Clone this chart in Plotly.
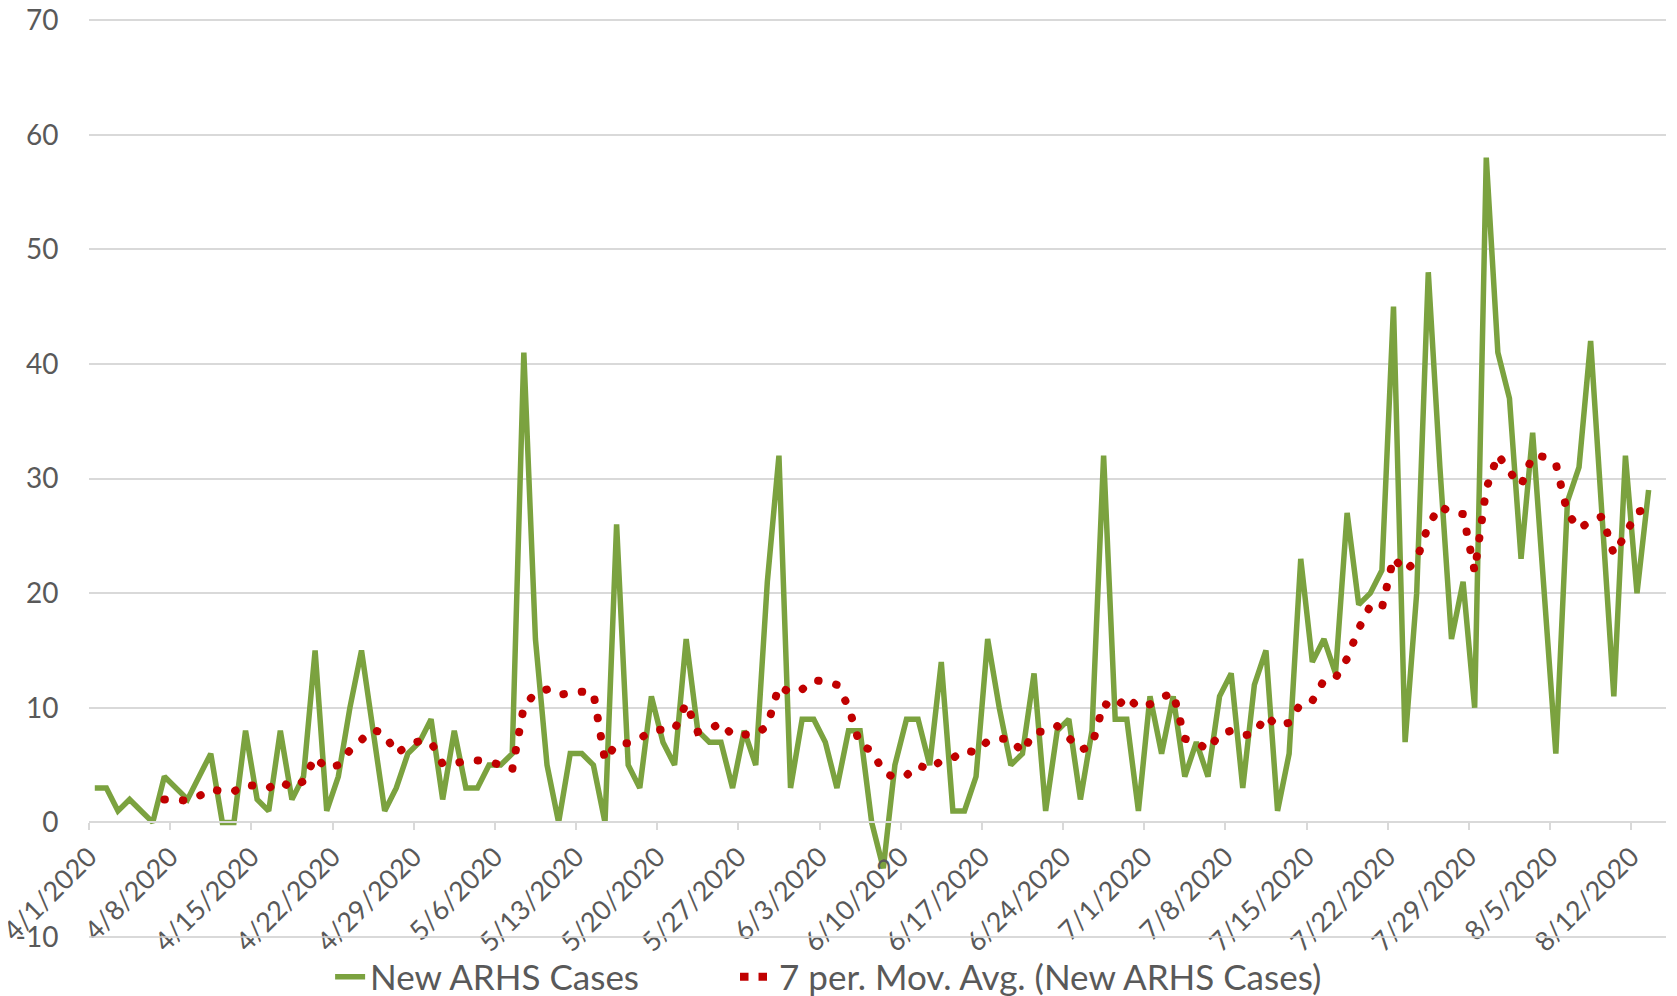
import pandas as pd
import plotly.graph_objects as go

# ====================== Data ====================== #

### Daily new cases, one value per day from 4/1/2020
start_date = '2020-04-01'
new_cases = [3, 3, 1, 2, 1, 0, 4, 3, 2, 4, 6, 0, 0, 8, 2, 1, 8, 2, 4, 15,
             1, 4, 10, 15, 8, 1, 3, 6, 7, 9, 2, 8, 3, 3, 5, 5, 6, 41, 16, 5,
             0, 6, 6, 5, 0, 26, 5, 3, 11, 7, 5, 16, 8, 7, 7, 3, 8, 5, 21, 32,
             3, 9, 9, 7, 3, 8, 8, 0, -4, 5, 9, 9, 5, 14, 1, 1, 4, 16, 10, 5,
             6, 13, 1, 8, 9, 2, 8, 32, 9, 9, 1, 11, 6, 11, 4, 7, 4, 11, 13, 3,
             12, 15, 1, 6, 23, 14, 16, 13, 27, 19, 20, 22, 45, 7, 20, 48, 31, 16, 21, 10,
             58, 41, 37, 23, 34, 20, 6, 28, 31, 42, 26, 11, 32, 20, 29]

### 7 period moving average (starts on the 7th day)
mov_avg = [None, None, None, None, None, None,
           2.0, 2.0, 1.9, 2.3, 2.9, 2.7, 2.7, 3.3, 3.1, 3.0, 3.6, 3.0, 3.6, 5.7,
           4.7, 5.0, 6.3, 7.3, 8.1, 7.7, 6.0, 6.7, 7.1, 7.0, 5.1, 5.1, 5.4, 5.4, 5.3, 5.0, 4.6, 10.1, 11.3, 11.6,
           11.1, 11.3, 11.4, 11.3, 5.4, 6.9, 6.9, 7.3, 8.0, 8.1, 8.1, 10.4, 7.9, 8.1, 8.7, 7.6, 7.7, 7.7, 8.4, 11.9,
           11.3, 11.6, 12.4, 12.3, 12.0, 10.1, 6.7, 6.3, 4.4, 3.9, 4.1, 5.0, 4.6, 5.4, 5.6, 6.3, 6.1, 7.1, 7.3, 7.3,
           6.1, 7.9, 7.9, 8.4, 7.4, 6.3, 6.7, 10.4, 9.9, 11.0, 10.0, 10.3, 10.9, 11.3, 7.3, 7.0, 6.3, 7.7, 8.0, 7.6,
           7.7, 9.3, 8.4, 8.7, 10.4, 10.6, 12.4, 12.6, 14.3, 16.9, 18.9, 18.7, 23.1, 21.9, 22.9, 25.9, 27.6, 27.0, 26.9, 21.9,
           29.1, 32.1, 30.6, 29.4, 32.0, 31.9, 31.3, 27.0, 25.6, 26.3, 26.7, 23.4, 25.1, 27.1, 27.3]

### Axis ticks
x_tick_labels = ['4/1/2020', '4/8/2020', '4/15/2020', '4/22/2020', '4/29/2020',
                 '5/6/2020', '5/13/2020', '5/20/2020', '5/27/2020', '6/3/2020',
                 '6/10/2020', '6/17/2020', '6/24/2020', '7/1/2020', '7/8/2020',
                 '7/15/2020', '7/22/2020', '7/29/2020', '8/5/2020', '8/12/2020']
y_tick_vals = [-10, 0, 10, 20, 30, 40, 50, 60, 70]
y_tick_labels = ['-10', '0', '10', '20', '30', '40', '50', '60', '70']

dates = pd.date_range(start_date, periods=len(new_cases), freq='D')
x_tick_vals = pd.to_datetime(x_tick_labels, format='%m/%d/%Y')

# ============================ Figure ================================= #

text_color = '#595959'
grid_color = '#d9d9d9'
avg_color = '#c00000'
font_family = 'Lato, sans-serif'

x_range = ['2020-04-01', '2020-08-15']
y_range = [-10.35, 70.1]
x_axis_pos = (0 - y_range[0]) / (y_range[1] - y_range[0])   # category axis crosses at 0

fig = go.Figure()

fig.add_trace(go.Scatter(x=dates, y=new_cases, name='New ARHS Cases', mode='lines',
                         xperiod=86400000, xperiodalignment='middle',
                         line=dict(color='#7ba23f', width=5.5), legend='legend'))

fig.add_trace(go.Scatter(x=dates, y=mov_avg, name='7 per. Mov. Avg. (New ARHS Cases)',
                         mode='lines', xperiod=86400000, xperiodalignment='middle',
                         line=dict(color=avg_color, width=8, dash='0.5px,18px'), legend='legend2'))

# page body adds an 8px offset, so the figure is trimmed by that much
legend_style = dict(orientation='h', xref='container', xanchor='left',
                    yref='container', y=0.0192, yanchor='middle',
                    font=dict(size=35, color=text_color), bgcolor='rgba(0,0,0,0)')

fig.update_layout(width=1669, height=988, plot_bgcolor='white', paper_bgcolor='white',
                  margin=dict(l=81, r=11, t=11, b=55),
                  font=dict(family=font_family, color=text_color, size=28),
                  showlegend=True,
                  legend=dict(legend_style, x=0.193),
                  legend2=dict(legend_style, x=0.438))

fig.update_xaxes(range=x_range, anchor='free', position=x_axis_pos,
                 tickmode='array', tickvals=x_tick_vals, ticktext=x_tick_labels,
                 tickangle=-45, ticks='outside', ticklen=7, tickwidth=1.5, tickcolor=grid_color,
                 ticklabelstandoff=0, ticklabeloverflow='allow',
                 showline=True, linecolor=grid_color, linewidth=1.5,
                 showgrid=False, zeroline=False, automargin=False,
                 tickfont=dict(size=27, color=text_color))

fig.update_yaxes(range=y_range, tickmode='array', tickvals=y_tick_vals, ticktext=y_tick_labels,
                 showgrid=True, gridcolor=grid_color, gridwidth=1.5, zeroline=False,
                 ticks='outside', ticklen=24, tickcolor='rgba(0,0,0,0)',
                 ticklabeloverflow='allow',
                 showline=False, automargin=False,
                 tickfont=dict(size=28, color=text_color))

# lowest gridline (-10), which plotly leaves out next to the plot edge
fig.add_hline(y=y_tick_vals[0], line=dict(color=grid_color, width=1.5), layer='above')

# round dots on the plotted average, square dots in its legend entry
dot_caps = """
var gd = document.getElementById('{plot_id}');
function dotCaps() {
    gd.querySelectorAll('path').forEach(function(p) {
        if (p.style.stroke === 'rgb(192, 0, 0)') {
            p.style.strokeLinecap = p.closest('.scatterlayer') ? 'round' : 'square';
        }
    });
}
dotCaps();
gd.on('plotly_afterplot', dotCaps);
"""

fig.write_html("out.html", post_script=dot_caps)
